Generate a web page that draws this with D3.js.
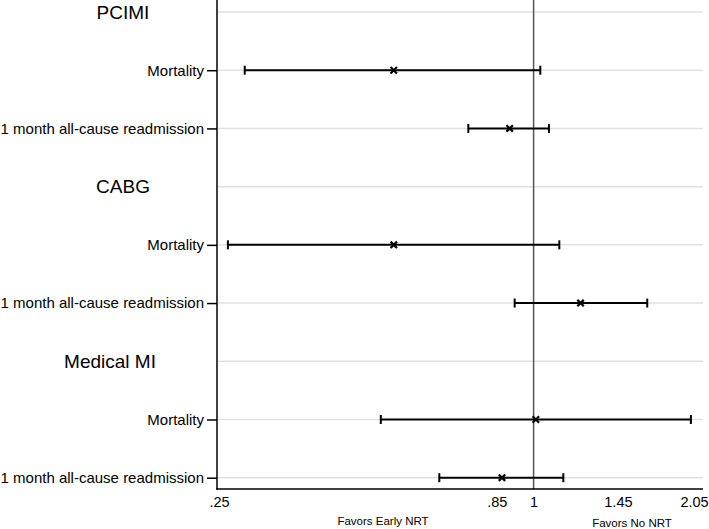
<!DOCTYPE html>
<html>
<head>
<meta charset="utf-8">
<script src="https://cdn.jsdelivr.net/npm/d3@7"></script>
<style>
    body { margin: 0; background: #fff; }
    svg text { font-family: "Liberation Sans", Arial, sans-serif; fill: #000; }
</style>
</head>
<body>
<div id="chart"></div>
<script>
// Groups and outcomes, in plotting order
var groups = ["PCIMI", "CABG", "Medical MI"];
var outcomes = ["Mortality", "1 month all-cause readmission"];

// Odds ratios and 95% CI, one value per group x outcome
var estimate = [0.54, 0.90, 0.54, 1.23, 1.01, 0.87];
var lower = [0.28, 0.75, 0.26, 0.92, 0.51, 0.66];
var upper = [1.03, 1.07, 1.12, 1.65, 2.00, 1.14];

var xTicks = [0.25, 0.85, 1, 1.45, 2.05];
var xTickLabels = [".25", ".85", "1", "1.45", "2.05"];
var favorLabels = ["Favors Early NRT", "Favors No NRT"];

var width = 709, height = 529;
var plotLeft = 217, plotRight = 703, plotBottom = 489;

// horizontal position of the heading text, per group
var headingCenter = [123, 123, 110];

var svg = d3.select("#chart").append("svg")
    .attr("width", width)
    .attr("height", height);

// build one row per heading and per outcome
var rows = [];
var items = [];
groups.forEach(function (g, gi) {
    rows.push("h" + gi);
    outcomes.forEach(function (o, oi) {
        var idx = gi * outcomes.length + oi;
        rows.push("r" + idx);
        items.push({
            key: "r" + idx,
            label: o,
            est: estimate[idx],
            lo: lower[idx],
            hi: upper[idx]
        });
    });
});

var x = d3.scaleLog()
    .domain([0.25, 2.05])
    .range([219, 696.5]);

var y = d3.scalePoint()
    .domain(rows)
    .range([12, 477.7]);

// grid lines on every row
svg.append("g")
    .selectAll("line")
    .data(rows)
    .enter().append("line")
    .attr("x1", plotLeft + 1)
    .attr("x2", plotRight)
    .attr("y1", function (d) { return y(d); })
    .attr("y2", function (d) { return y(d); })
    .attr("stroke", "#e1e1e1")
    .attr("stroke-width", 1.5);

// reference line at 1
svg.append("line")
    .attr("x1", x(1)).attr("x2", x(1))
    .attr("y1", 0).attr("y2", plotBottom)
    .attr("stroke", "#555")
    .attr("stroke-width", 1.5);

// y axis with outcome labels
var yAxis = d3.axisLeft(y)
    .tickValues(items.map(function (d) { return d.key; }))
    .tickFormat(function (k) {
        return items.find(function (d) { return d.key === k; }).label;
    })
    .tickSize(10)
    .tickPadding(3);

var yG = svg.append("g")
    .attr("transform", "translate(" + plotLeft + ",0)")
    .call(yAxis);
yG.select(".domain").remove();
yG.selectAll(".tick line").attr("stroke", "#000").attr("stroke-width", 1.5);
yG.selectAll(".tick text")
    .style("font-size", "15px")
    .style("font-family", "'Liberation Sans', Arial, sans-serif");

svg.append("line")
    .attr("x1", plotLeft).attr("x2", plotLeft)
    .attr("y1", 0).attr("y2", plotBottom + 0.75)
    .attr("stroke", "#000")
    .attr("stroke-width", 1.5);

// x axis
var xAxis = d3.axisBottom(x)
    .tickValues(xTicks)
    .tickFormat(function (d, i) { return xTickLabels[i]; })
    .tickSize(0)
    .tickPadding(8);

var xG = svg.append("g")
    .attr("transform", "translate(0," + plotBottom + ")")
    .call(xAxis);
xG.select(".domain").remove();
xG.selectAll(".tick text")
    .style("font-size", "14.5px")
    .style("font-family", "'Liberation Sans', Arial, sans-serif");
// keep the last label inside the window
xG.selectAll(".tick text")
    .filter(function (d, i) { return i === xTicks.length - 1; })
    .attr("dx", -2.5);

svg.append("line")
    .attr("x1", plotLeft - 0.75).attr("x2", plotRight)
    .attr("y1", plotBottom).attr("y2", plotBottom)
    .attr("stroke", "#000")
    .attr("stroke-width", 1.5);

// group headings
svg.append("g")
    .selectAll("text")
    .data(groups)
    .enter().append("text")
    .attr("x", function (d, i) { return headingCenter[i]; })
    .attr("y", function (d, i) { return y("h" + i); })
    .attr("dy", "0.35em")
    .attr("text-anchor", "middle")
    .style("font-size", "19px")
    .text(function (d) { return d; });

// confidence intervals
var ci = svg.append("g").selectAll("g")
    .data(items)
    .enter().append("g");

ci.append("line")
    .attr("x1", function (d) { return x(d.lo); })
    .attr("x2", function (d) { return x(d.hi); })
    .attr("y1", function (d) { return y(d.key); })
    .attr("y2", function (d) { return y(d.key); })
    .attr("stroke", "#000")
    .attr("stroke-width", 2);

ci.selectAll(".cap")
    .data(function (d) { return [{ v: d.lo, k: d.key }, { v: d.hi, k: d.key }]; })
    .enter().append("line")
    .attr("class", "cap")
    .attr("x1", function (d) { return x(d.v); })
    .attr("x2", function (d) { return x(d.v); })
    .attr("y1", function (d) { return y(d.k) - 4.5; })
    .attr("y2", function (d) { return y(d.k) + 4.5; })
    .attr("stroke", "#000")
    .attr("stroke-width", 2);

// point estimate marker (x)
ci.append("path")
    .attr("d", function (d) {
        var cx = x(d.est), cy = y(d.key), r = 3.2;
        return "M" + (cx - r) + "," + (cy - r) + "L" + (cx + r) + "," + (cy + r) +
            "M" + (cx - r) + "," + (cy + r) + "L" + (cx + r) + "," + (cy - r);
    })
    .attr("stroke", "#000")
    .attr("stroke-width", 2.2)
    .attr("fill", "none");

// favors labels under the axis
svg.append("text")
    .attr("x", 383)
    .attr("y", 525)
    .attr("text-anchor", "middle")
    .style("font-size", "11.5px")
    .text(favorLabels[0]);

svg.append("text")
    .attr("x", 632)
    .attr("y", 527)
    .attr("text-anchor", "middle")
    .style("font-size", "11.5px")
    .text(favorLabels[1]);
</script>
</body>
</html>
